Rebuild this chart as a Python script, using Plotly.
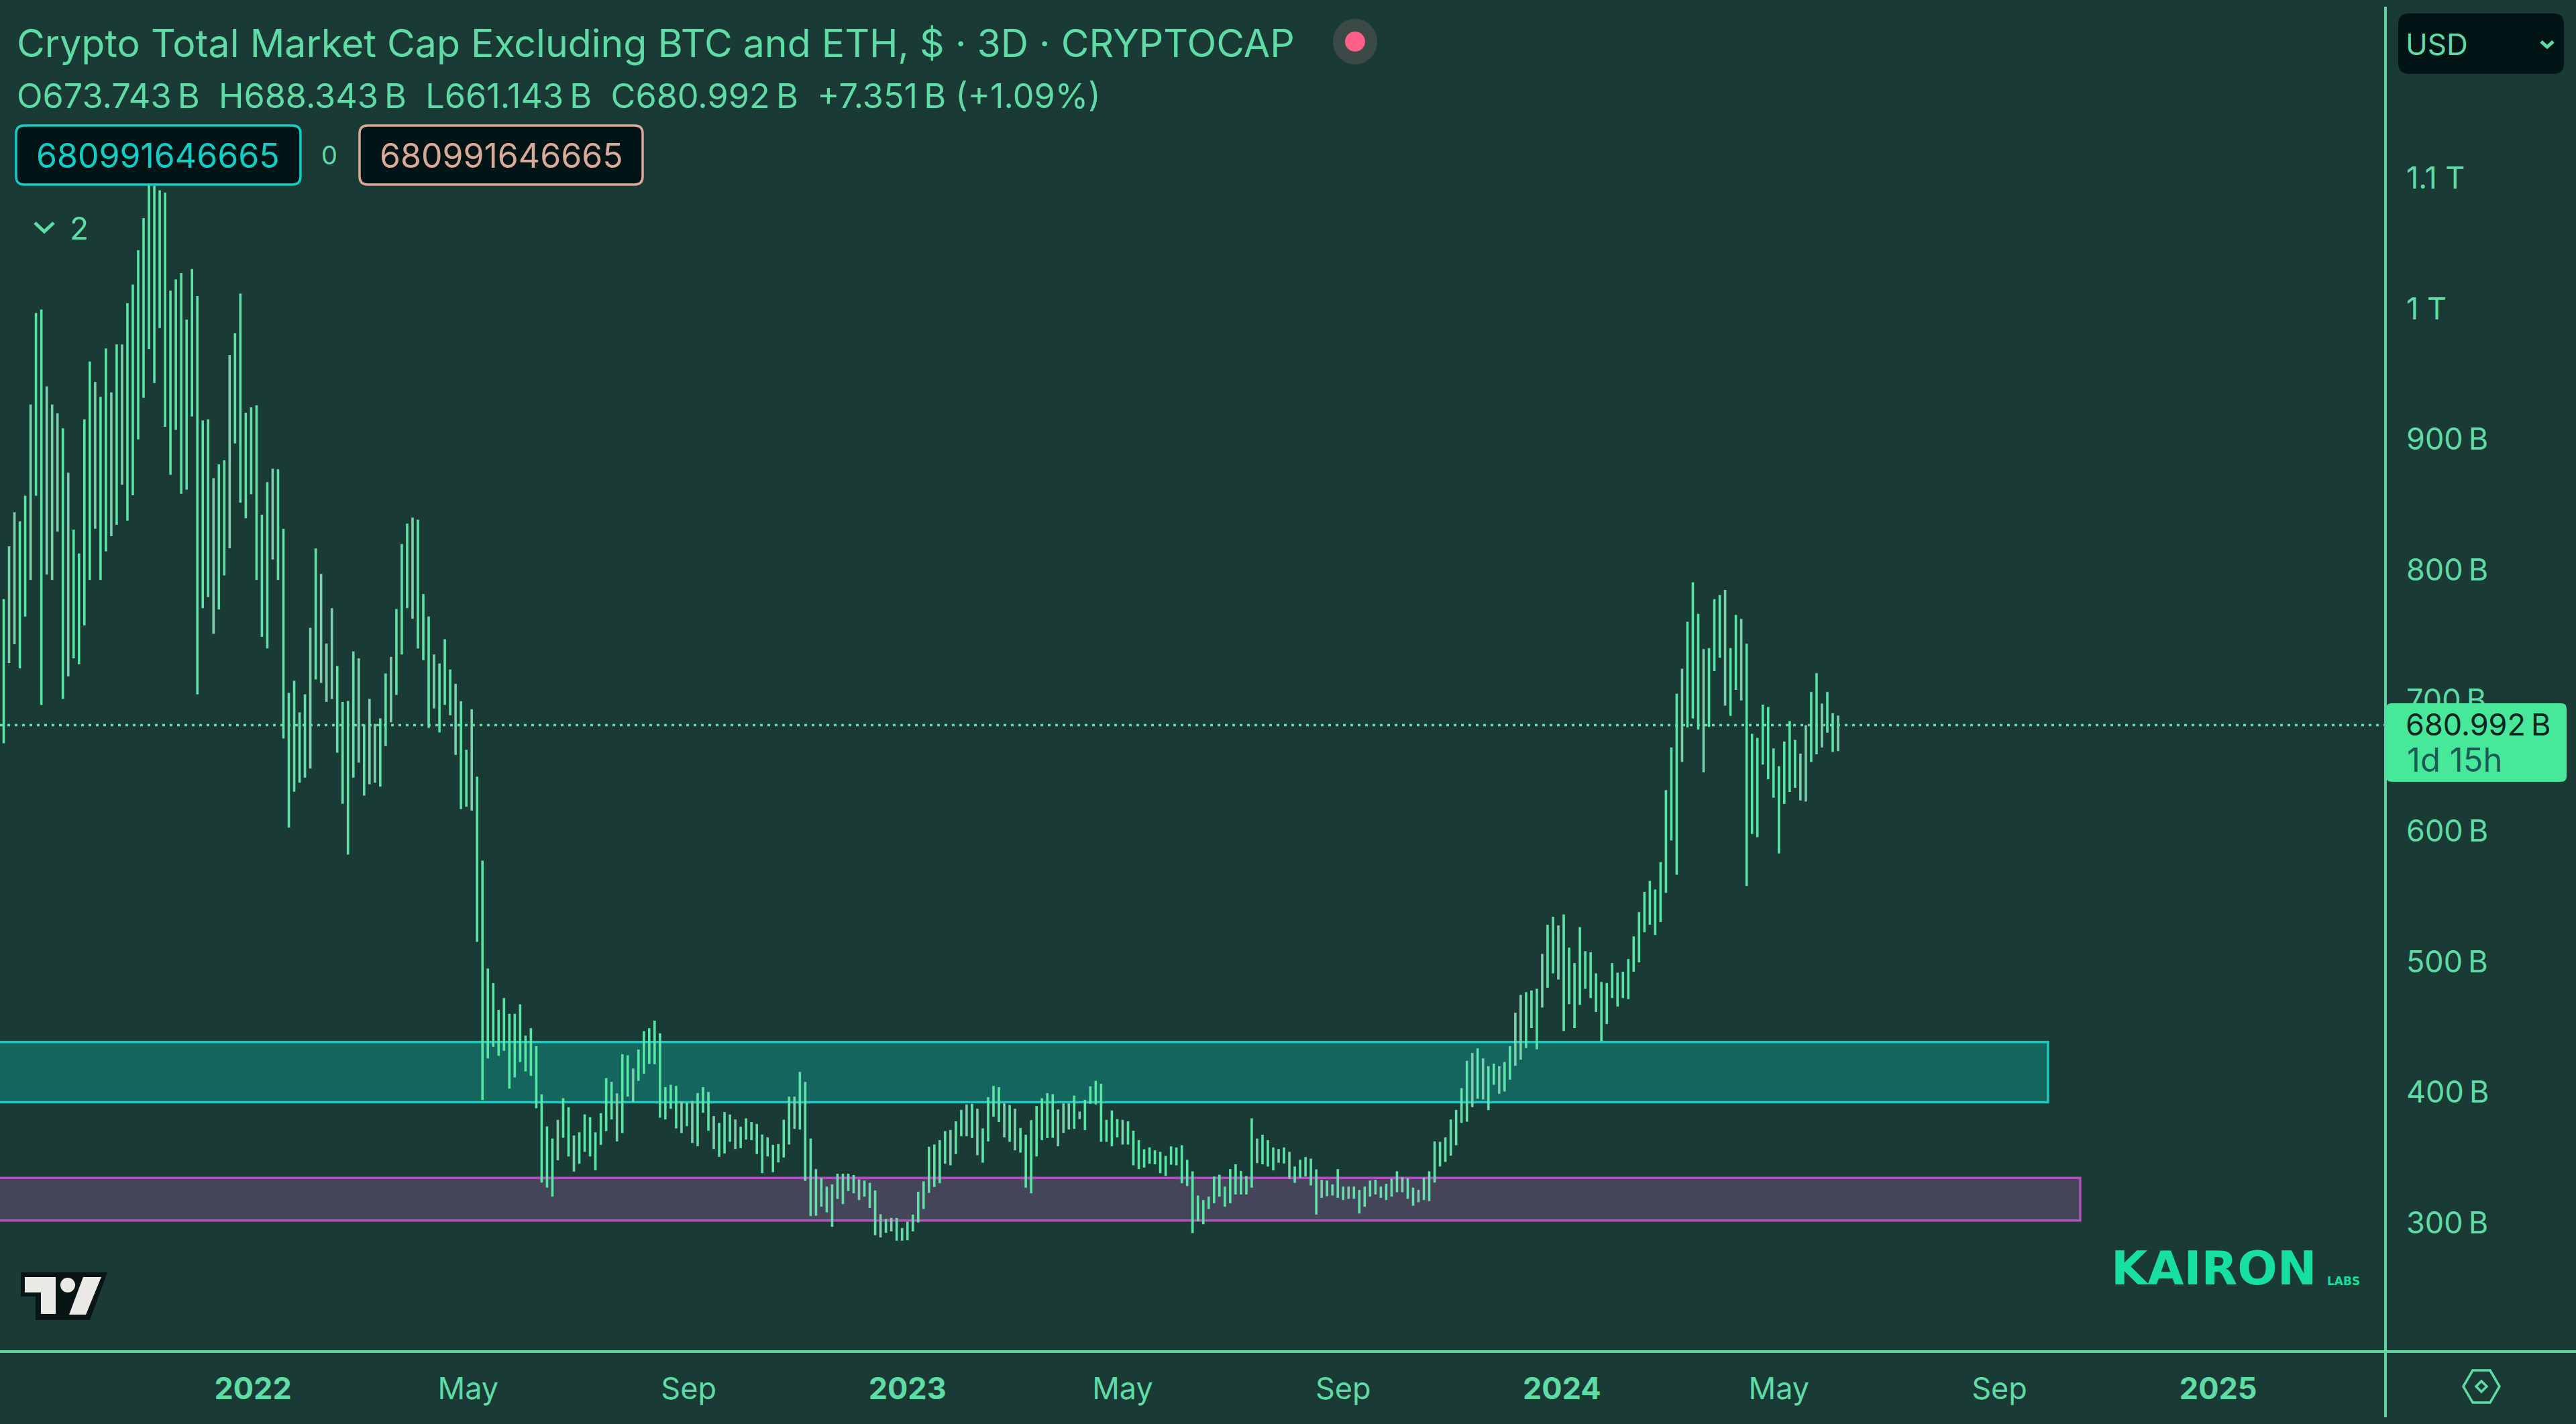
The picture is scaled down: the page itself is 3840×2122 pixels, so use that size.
import pandas as pd
import plotly.graph_objects as go

# 3D bars, in $B
highs = [
    777.5, 818, 844, 837, 856.6, 926.6, 996.6, 999.3, 940.4, 926.6,
    919.7, 908.3, 874.3, 830.7, 812.4, 915.1, 959.4, 943.8, 932.3, 969.5,
    935.8, 972.5, 972.5, 1004.1, 1018.4, 1044.7, 1069.3, 1094.5, 1094, 1090.6,
    1088.8, 1013.8, 1022.3, 1027.1, 991.5, 1030.3, 1009.7, 914.4, 915.1, 870.2,
    880.7, 883.7, 964.5, 981.2, 1011.5, 920.2, 924.3, 925.9, 842.2, 867,
    877.3, 877, 831.4, 705.7, 714.9, 690.8, 704.6, 755.5, 816.3, 796.8,
    743.5, 770.6, 726.3, 698.8, 699.5, 737.4, 732.1, 681.6, 701.1, 682,
    686.2, 720.6, 733.2, 769.9, 819.7, 835.3, 839.9, 838.3, 781.4, 764.2,
    735.1, 728.2, 746.8, 723.6, 712.6, 699.3, 662.1, 693.1, 641.5, 577.2,
    494.6, 483.5, 462.9, 472, 459.9, 459.9, 467.2, 443.2, 448.9, 435.2,
    398.2, 373.7, 364.4, 378.7, 395.3, 388.4, 366.7, 369.2, 382.9, 380.7,
    369.2, 383.8, 410.7, 407.8, 399, 429, 428.2, 418, 432.6, 446.7,
    448.9, 454.7, 445, 403.8, 405.6, 404.7, 392.7, 391.9, 393.2, 399.2,
    403.8, 400.1, 381.6, 376.4, 384.7, 382.8, 379, 373.5, 379.9, 377,
    375.6, 367.5, 365.3, 359.6, 360.2, 378.8, 396.5, 396.5, 415.5, 407.8,
    364.4, 341, 334.1, 327.6, 329.3, 337.5, 337.5, 337.5, 336.5, 333.1,
    332.2, 330.5, 324.7, 306.5, 302.8, 303.6, 303.6, 295.9, 300.7, 306.2,
    323.7, 331.6, 358.1, 359.8, 363.2, 370.1, 371, 377.6, 386.4, 390.5,
    391, 387.2, 372.2, 396.1, 404.7, 403.8, 391.3, 390.1, 387.2, 372.5,
    367.3, 378.5, 389.3, 395.3, 399.2, 398.4, 386.7, 391.3, 391.3, 397.3,
    385, 394, 404.4, 408.6, 406.4, 378.7, 385.9, 379.3, 378.7, 377.6,
    370.4, 363.2, 356.2, 357.6, 355.4, 354.2, 351.1, 358.4, 357.6, 359.3,
    348.2, 339.3, 320.8, 317.3, 319.9, 335.3, 336.7, 327.6, 341, 344.7,
    339.6, 335.7, 379.9, 364.4, 367.3, 363.2, 357.6, 356.4, 357.6, 354.2,
    343, 348.2, 350.2, 349, 340.8, 332.8, 332.2, 329.3, 341, 327.6,
    327.6, 327.6, 325, 327.6, 332.2, 332.8, 327.6, 329.7, 333.6, 339.3,
    334.8, 334.1, 326.8, 325, 334.5, 339.3, 362.2, 361.9, 365.3, 379,
    386.4, 403, 423.9, 429.9, 433.5, 425.8, 419.8, 421.8, 419.8, 423,
    435.2, 460.7, 474.4, 476.5, 477.8, 479.1, 505.8, 528.1, 534.2, 527.6,
    536, 510.6, 498.8, 526.3, 507.9, 507.1, 490.9, 484.3, 483.5, 498.8,
    491.4, 492.2, 501.9, 519.2, 537.8, 553.3, 561.7, 555.1, 576.1, 631.2,
    663.9, 705.1, 724.2, 760.2, 790.3, 766.2, 739.2, 740, 777.5, 780.6,
    784.6, 740, 765.4, 762.3, 743.4, 674.4, 671.3, 696.7, 694.9, 663.2,
    649.5, 668.4, 684.1, 669.7, 659.2, 681, 706.4, 720.8, 697.5, 706.4,
    690.2, 688.3,
]
lows = [
    667.2, 728.6, 742.9, 724.5, 764.2, 792.2, 856.6, 696.5, 796.3, 792.2,
    829.1, 701.1, 718.3, 732.1, 727.5, 757.3, 792.2, 831.4, 792.2, 814,
    825.7, 834.4, 865.1, 837.6, 857.1, 899.8, 931.7, 969, 943, 985.1,
    909.4, 872.7, 907.1, 858.2, 861.3, 917.4, 704.6, 770.6, 779.1, 750.9,
    769.5, 795.6, 816.5, 896.8, 851.4, 839.4, 857.8, 792.2, 748.6, 739.7,
    807.8, 792.2, 670.8, 602.5, 630, 636.9, 640.8, 647.7, 716, 713.3,
    698.8, 701.1, 659.8, 620.8, 581.8, 640.8, 652.2, 627, 635.7, 636.9,
    633.9, 664.9, 683.2, 704.1, 735.1, 770.6, 762.4, 739.7, 730.7, 678.9,
    693.8, 675.4, 696.5, 688.5, 658.2, 616.7, 618.5, 615.6, 515, 393.9,
    425.8, 434.7, 427.8, 431.6, 402.6, 411.2, 423, 415.8, 412.4, 387.6,
    330.7, 326.8, 319.9, 347.7, 365, 350.7, 339.1, 345.1, 354.2, 350.7,
    340.1, 359.6, 370.1, 379, 362.2, 368.7, 396.5, 392.7, 408.6, 414.1,
    421.5, 421.3, 380.4, 379, 387.2, 372.2, 368.7, 373.9, 361, 358.5,
    384.1, 370.4, 356.4, 350.4, 353, 361.9, 356.4, 357.1, 363.6, 363.2,
    352.5, 337.9, 350.7, 338.7, 346.1, 349.9, 359.8, 371.8, 371.3, 331.9,
    305, 305.3, 312.2, 307.9, 296.8, 318.2, 314.2, 324.2, 322.5, 317.3,
    319.9, 311.3, 290.4, 288.7, 292.2, 293.3, 286.2, 286.2, 286.5, 293.3,
    300.2, 310.5, 322.8, 327.3, 330.2, 345.2, 343.9, 352.5, 366.2, 366.2,
    364.8, 351.6, 345.9, 362.2, 381.2, 377, 365.3, 361.9, 355.4, 353.6,
    326.8, 322.5, 350.7, 363.2, 364.8, 365, 358.5, 368.7, 371.3, 371.8,
    379.3, 370.9, 391, 390.5, 361.9, 361.9, 358.5, 365.3, 359.8, 359.8,
    343.9, 341, 342.2, 345.1, 344.7, 337.9, 335.8, 344.4, 343.9, 330.2,
    328, 292, 301, 298.8, 310.5, 314.8, 319.9, 312.2, 314.8, 321.6,
    321.6, 321.6, 326.8, 345.6, 344.7, 343, 340, 345.9, 345.3, 333.6,
    330.5, 334.5, 335.3, 328.5, 306.2, 319, 320.2, 320.8, 319, 317.3,
    318.2, 318.2, 307, 312.2, 319.9, 321.6, 319, 317.3, 319.9, 323.3,
    323.3, 318.2, 313, 315.6, 317.3, 316.5, 330.7, 343, 346.5, 351.3,
    359.3, 376.4, 377.3, 388.4, 394.9, 394.4, 386.2, 405.6, 398.7, 400.4,
    409.5, 420.1, 424.8, 433.7, 449, 432.7, 464.7, 479.9, 490.9, 486.2,
    446.8, 467.3, 449, 466.8, 479.1, 472, 461.3, 439, 452.1, 472,
    465.5, 472, 471.2, 492.2, 499.3, 522.4, 528.1, 520.3, 530.2, 552.5,
    592.6, 566.4, 652.7, 679.2, 686.2, 677.6, 644.8, 679.7, 722.4, 732.6,
    695.9, 688.1, 708, 699.9, 557.8, 597.6, 595.2, 650.8, 639.6, 625.4,
    582.7, 620.7, 629.9, 633, 623.3, 622.5, 652.7, 658.7, 663.9, 675.2,
    660.5, 661.1,
]
# bars that look paler on the chart
pale_bars = [1, 2, 5, 8, 9, 10, 12, 17, 20, 22, 39, 42, 50, 57, 59, 60, 61, 66, 68, 69,
             72, 76, 80, 84, 87, 103, 106, 114, 117, 126, 128, 132, 136, 147, 159, 163,
             165, 176, 179, 181, 186, 188, 196, 197, 198, 200, 208, 233, 237, 239, 245,
             250, 260, 263, 273, 275, 278, 281, 282, 286, 289, 312, 316, 320, 323, 334,
             335, 338, 341]
last_bar = pd.Timestamp("2024-06-03")
last_close = 680.992

y_ticks = [300, 400, 500, 600, 700, 800, 900, 1000, 1100]
y_labels = ["300\u2009B", "400\u2009B", "500\u2009B", "600\u2009B", "700\u2009B",
            "800\u2009B", "900\u2009B", "1 T", "1.1 T"]
x_ticks = ["2022-01-01", "2022-05-01", "2022-09-01", "2023-01-01", "2023-05-01",
           "2023-09-01", "2024-01-01", "2024-05-01", "2024-09-01", "2025-01-01"]
x_labels = ["<b>2022</b>", "May", "Sep", "<b>2023</b>", "May", "Sep",
            "<b>2024</b>", "May", "Sep", "<b>2025</b>"]

# supply zones drawn on the chart: (top, bottom, right end)
cyan_zone = (438.4, 392.2, "2024-09-28")
purple_zone = (334.3, 301.6, "2024-10-16")

BG = "#1a3b35"
GREEN = "#5fdca6"
BAR = "#5ae4a6"
BAR_PALE = "#7ccfaa"
AXIS = "#62d3a2"
FONT = "Inter"
W, H = 3840, 2122
PLOT_W, PLOT_H = 3556, 2014
PX_PER_DAY = 2.673


def px(x):
    return x / PLOT_W


def py(y):
    return 1 - y / PLOT_H


def label(fig, x, y, text, size=48, color=GREEN, anchor="left", family=FONT):
    fig.add_annotation(x=px(x), y=py(y), xref="paper", yref="paper", text=text,
                       showarrow=False, xanchor=anchor, yanchor="middle", align="left",
                       font=dict(family=family, size=size, color=color), borderpad=0)


def poly(fig, pts, fill=None, line=None, width=0, closed=True):
    path = "M " + " L ".join(f"{px(a):.5f} {py(b):.5f}" for a, b in pts) + (" Z" if closed else "")
    fig.add_shape(type="path", path=path, xref="paper", yref="paper", layer="above",
                  fillcolor=fill or "rgba(0,0,0,0)",
                  line=dict(color=line or "rgba(0,0,0,0)", width=width))


def rounded(fig, x0, y0, x1, y1, r, fill, line=None, width=0):
    path = (f"M {px(x0 + r):.5f} {py(y0):.5f} L {px(x1 - r):.5f} {py(y0):.5f} "
            f"Q {px(x1):.5f} {py(y0):.5f} {px(x1):.5f} {py(y0 + r):.5f} "
            f"L {px(x1):.5f} {py(y1 - r):.5f} "
            f"Q {px(x1):.5f} {py(y1):.5f} {px(x1 - r):.5f} {py(y1):.5f} "
            f"L {px(x0 + r):.5f} {py(y1):.5f} "
            f"Q {px(x0):.5f} {py(y1):.5f} {px(x0):.5f} {py(y1 - r):.5f} "
            f"L {px(x0):.5f} {py(y0 + r):.5f} "
            f"Q {px(x0):.5f} {py(y0):.5f} {px(x0 + r):.5f} {py(y0):.5f} Z")
    fig.add_shape(type="path", path=path, xref="paper", yref="paper", layer="above",
                  fillcolor=fill, line=dict(color=line or "rgba(0,0,0,0)", width=width))


def circle(fig, cx, cy, rx, ry, fill):
    fig.add_shape(type="circle", xref="paper", yref="paper", layer="above",
                  x0=px(cx - rx), x1=px(cx + rx), y0=py(cy + ry), y1=py(cy - ry),
                  fillcolor=fill, line=dict(width=0))


dates = pd.date_range(end=last_bar, periods=len(highs), freq="3D")
spans = [h - l for h, l in zip(highs, lows)]
colors = [BAR_PALE if i in pale_bars else BAR for i in range(len(highs))]
x_start = last_bar - pd.Timedelta(days=2740 / PX_PER_DAY)
x_end = x_start + pd.Timedelta(days=PLOT_W / PX_PER_DAY)

fig = go.Figure()
fig.add_trace(go.Bar(x=dates, y=spans, base=lows, width=1.35 * 86400000,
                     marker=dict(color=colors, line=dict(width=0)), hoverinfo="skip"))

# zones sit under the bars
for (top, bottom, end), edge, fill in [(cyan_zone, "#10cfc6", "#13655e"),
                                       (purple_zone, "#b54dbe", "#45455a")]:
    fig.add_shape(type="rect", xref="x", yref="y", layer="below",
                  x0="2021-01-01", x1=end, y0=bottom, y1=top,
                  fillcolor=fill, line=dict(color=edge, width=3.5))
fig.add_shape(type="line", xref="paper", yref="y", layer="above", x0=0, x1=1,
              y0=last_close, y1=last_close,
              line=dict(color=BAR, width=3.5, dash="4px,7px"))

fig.update_layout(
    width=W, height=H, showlegend=False,
    paper_bgcolor=BG, plot_bgcolor=BG,
    margin=dict(l=0, r=W - PLOT_W, t=0, b=H - PLOT_H, pad=0),
    xaxis=dict(type="date", range=[x_start, x_end], tickvals=x_ticks, ticktext=x_labels,
               showgrid=False, zeroline=False, ticks="", ticklabelstandoff=25,
               tickfont=dict(family=FONT, size=45, color=GREEN)),
    yaxis=dict(range=[201.3, 1236.3], side="right", tickvals=y_ticks, ticktext=y_labels,
               showgrid=False, zeroline=False, ticks="", ticklabelstandoff=30,
               tickfont=dict(family=FONT, size=45, color=GREEN)),
)

# axis frame lines
poly(fig, [(3556, 10), (3556, 2112)], line=AXIS, width=4, closed=False)
poly(fig, [(0, 2014), (3840, 2014)], line=AXIS, width=4, closed=False)

# legend text top left
label(fig, 24, 64, "Crypto Total Market Cap Excluding BTC and ETH, $ · 3D · CRYPTOCAP", size=57.2)
label(fig, 24, 142, "O673.743\u2009B  H688.343\u2009B  L661.143\u2009B  C680.992\u2009B  +7.351\u2009B (+1.09%)", size=50.4)
circle(fig, 2020, 62, 33, 34, "#3b4a47")
circle(fig, 2020, 62, 15, 15, "#ff6089")

rounded(fig, 24, 187, 448, 275, 12, "#021416", "#10cfc6", 3.5)
label(fig, 236, 232, "680991646665", size=50, color="#10cfc6", anchor="center")
label(fig, 491, 231, "0", size=38, anchor="center")
rounded(fig, 536, 187, 958, 275, 12, "#021416", "#dba998", 3.5)
label(fig, 747, 232, "680991646665", size=50, color="#dba998", anchor="center")

poly(fig, [(52, 332), (66, 345), (80, 332)], line=GREEN, width=5, closed=False)
label(fig, 103, 340, "2", size=46)

# currency box
rounded(fig, 3575, 20, 3822, 110, 16, "#021416")
label(fig, 3585, 66, "USD", size=44)
poly(fig, [(3788, 62), (3797, 70), (3806, 62)], line=GREEN, width=5, closed=False)

# last price tag, covers the 700 B tick label
rounded(fig, 3557, 1048, 3826, 1165, 8, "#48e89a")
label(fig, 3585, 1079, "680.992\u2009B", size=45, color="#0b2422")
label(fig, 3587, 1132, "1d 15h", size=49, color="#1c5a55")

# TradingView mark
poly(fig, [(31, 1896), (160, 1896), (134, 1967), (53, 1967), (53, 1932), (31, 1932)], fill="#091414")
poly(fig, [(37, 1903), (83, 1903), (83, 1958), (61, 1958), (61, 1926), (37, 1926)], fill="#ebe9e6")
circle(fig, 101, 1915, 11, 11, "#ebe9e6")
poly(fig, [(124, 1903), (151, 1903), (128, 1959), (103, 1959)], fill="#ebe9e6")

# Kairon watermark
label(fig, 3300, 1890, "<b>KAIRON</b>", size=70, color="#17dfa0", anchor="center", family="DejaVu Sans")
label(fig, 3493, 1909, "<b>LABS</b>", size=17, color="#17dfa0", anchor="center", family="DejaVu Sans")

# settings hexagon
poly(fig, [(3672, 2066), (3686, 2042), (3712, 2042), (3726, 2066), (3712, 2090), (3686, 2090)],
     line=GREEN, width=3.5)
poly(fig, [(3699, 2058), (3707, 2066), (3699, 2074), (3691, 2066)], line=GREEN, width=3.5)

fig.write_html("out.html", config=dict(displayModeBar=False),
               post_script="document.body.style.margin='0';")
